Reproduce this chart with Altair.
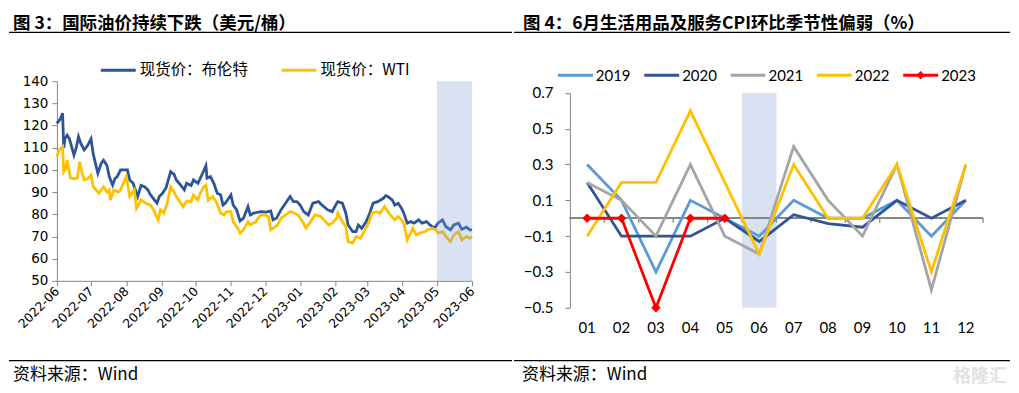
import altair as alt
import pandas as pd

# ---------------- left panel data: spot oil prices ----------------
brent_dates = ["2022-06-01","2022-06-04","2022-06-06","2022-06-07","2022-06-08","2022-06-10","2022-06-12","2022-06-16","2022-06-18","2022-06-20","2022-06-22","2022-06-25","2022-06-28","2022-07-01","2022-07-03","2022-07-07","2022-07-10","2022-07-12","2022-07-15","2022-07-17","2022-07-20","2022-07-22","2022-07-24","2022-07-27","2022-08-02","2022-08-04","2022-08-07","2022-08-11","2022-08-14","2022-08-17","2022-08-20","2022-08-22","2022-08-25","2022-08-28","2022-08-30","2022-09-02","2022-09-05","2022-09-09","2022-09-12","2022-09-14","2022-09-18","2022-09-21","2022-09-23","2022-09-27","2022-09-29","2022-10-03","2022-10-07","2022-10-10","2022-10-11","2022-10-14","2022-10-17","2022-10-18","2022-10-20","2022-10-23","2022-10-25","2022-10-27","2022-11-01","2022-11-03","2022-11-06","2022-11-09","2022-11-12","2022-11-16","2022-11-18","2022-11-21","2022-11-27","2022-12-02","2022-12-06","2022-12-08","2022-12-11","2022-12-15","2022-12-19","2022-12-23","2022-12-26","2022-12-29","2023-01-01","2023-01-04","2023-01-08","2023-01-12","2023-01-17","2023-01-20","2023-01-25","2023-01-29","2023-02-02","2023-02-03","2023-02-07","2023-02-10","2023-02-12","2023-02-16","2023-02-19","2023-02-21","2023-02-24","2023-02-28","2023-03-03","2023-03-06","2023-03-10","2023-03-15","2023-03-17","2023-03-19","2023-03-23","2023-03-25","2023-03-28","2023-03-31","2023-04-02","2023-04-05","2023-04-08","2023-04-11","2023-04-15","2023-04-18","2023-04-22","2023-04-25","2023-04-29","2023-05-02","2023-05-06","2023-05-09","2023-05-13","2023-05-16","2023-05-20","2023-05-23","2023-05-27","2023-05-30","2023-06-01"]
brent_values = [121,123,125.5,110,114,115.7,114,106.7,110,115,112,109,111,114,107,98.5,103,104.4,102,97,93.2,96,97,100,100,95.5,94,88,93,92.4,91,89,87,85,88,89.6,92,99.2,98,95.5,93,91,94,93,95.5,94,98.4,101.9,96.3,97,94,92.4,89.5,88.7,84.2,85,88.7,84.2,82,77,78.2,83.4,79.7,80.5,81.2,81,81.5,77.5,78.2,82,85,88,85.7,85.7,84,81.2,79.7,85,85.7,84.2,82,81.2,85,85.7,85,80.5,75.2,72.2,72.2,75.2,73.7,76.7,80.5,85,85.7,87.2,88.4,88,86.4,84.2,85,82.7,80.5,76,76.7,76,77.5,76,76.7,75.2,73.7,76,77.5,74.4,73,75.2,76,73.3,74.2,73,73]
wti_dates = ["2022-06-01","2022-06-03","2022-06-06","2022-06-07","2022-06-09","2022-06-10","2022-06-13","2022-06-16","2022-06-19","2022-06-21","2022-06-23","2022-06-25","2022-06-28","2022-07-01","2022-07-03","2022-07-08","2022-07-12","2022-07-15","2022-07-17","2022-07-18","2022-07-21","2022-07-25","2022-07-27","2022-08-01","2022-08-04","2022-08-08","2022-08-10","2022-08-14","2022-08-18","2022-08-22","2022-08-25","2022-08-27","2022-08-29","2022-08-31","2022-09-03","2022-09-06","2022-09-09","2022-09-12","2022-09-14","2022-09-18","2022-09-20","2022-09-23","2022-09-27","2022-09-29","2022-10-03","2022-10-05","2022-10-08","2022-10-10","2022-10-12","2022-10-16","2022-10-19","2022-10-21","2022-10-23","2022-10-26","2022-10-28","2022-11-01","2022-11-03","2022-11-07","2022-11-09","2022-11-12","2022-11-16","2022-11-18","2022-11-23","2022-11-27","2022-12-01","2022-12-04","2022-12-06","2022-12-08","2022-12-12","2022-12-15","2022-12-19","2022-12-23","2022-12-27","2022-12-30","2023-01-03","2023-01-06","2023-01-10","2023-01-14","2023-01-19","2023-01-23","2023-01-26","2023-01-29","2023-02-02","2023-02-03","2023-02-07","2023-02-10","2023-02-12","2023-02-16","2023-02-19","2023-02-23","2023-02-26","2023-03-02","2023-03-05","2023-03-09","2023-03-12","2023-03-16","2023-03-18","2023-03-21","2023-03-25","2023-03-28","2023-03-31","2023-04-02","2023-04-05","2023-04-08","2023-04-10","2023-04-13","2023-04-16","2023-04-21","2023-04-23","2023-04-27","2023-04-30","2023-05-02","2023-05-06","2023-05-09","2023-05-13","2023-05-16","2023-05-20","2023-05-23","2023-05-27","2023-05-30","2023-06-01"]
wti_values = [106,109,110.5,99.2,101,104.4,96.3,96,96.3,103.7,99,95.5,96,97.7,92.4,89.5,92.4,90,91,86.4,91,90,91,97,88,91,82.7,86.4,85,84.2,82,79.7,77.5,82,80.5,85,92.4,90,88,85,83.4,86,85.7,88.7,86.4,89.5,92.4,93.2,86.4,88,85.7,83.4,80.5,79.7,81.2,81.2,76.7,73.7,71.5,73,76.7,75.2,76.7,79.7,79.7,79,73,73.7,75.2,78.2,79.7,81.2,80.5,79.7,76.7,73.7,76.7,79.7,79,76.7,75.2,76,78.2,80.5,76.7,74.4,67.7,67,70,69.2,72.2,76,80.5,81.2,80.5,83.4,82,79.7,77.5,79,77.5,76,68.4,71.5,73.7,70.7,71.5,72.2,73,73.7,73,71.5,72.2,70,67.7,70.7,72.2,68.4,70,69.2,70]
oil_series = ["现货价：布伦特", "现货价：WTI"]
oil_colors = ["#2B5597", "#FFC000"]
oil_ticks = ["2022-06","2022-07","2022-08","2022-09","2022-10","2022-11","2022-12","2023-01","2023-02","2023-03","2023-04","2023-05","2023-06"]
oil_yticks = [50, 60, 70, 80, 90, 100, 110, 120, 130, 140]
oil_shade = ["2023-05-01", "2023-06-01"]

# ---------------- right panel data: CPI MoM ----------------
months = ["01","02","03","04","05","06","07","08","09","10","11","12"]
cpi_years = ["2019", "2020", "2021", "2022", "2023"]
cpi_colors = ["#5B9BD5", "#2F5597", "#A5A5A5", "#FFC000", "#FF0000"]
cpi_2019 = [0.3, 0.1, -0.3, 0.1, 0.0, -0.1, 0.1, 0.0, 0.0, 0.1, -0.1, 0.1]
cpi_2020 = [0.2, -0.1, -0.1, -0.1, 0.0, -0.13, 0.02, -0.03, -0.05, 0.1, 0.0, 0.1]
cpi_2021 = [0.2, 0.1, -0.1, 0.3, -0.1, -0.2, 0.4, 0.1, -0.1, 0.3, -0.4, 0.3]
cpi_2022 = [-0.1, 0.2, 0.2, 0.6, 0.2, -0.2, 0.3, 0.0, 0.0, 0.3, -0.3, 0.3]
cpi_2023 = [0.0, 0.0, -0.5, 0.0, 0.0]
cpi_yticks = [-0.5, -0.3, -0.1, 0.1, 0.3, 0.5, 0.7]
cpi_shade_month = "06"

title_left = "图 3：国际油价持续下跌（美元/桶）"
title_right = "图 4：6月生活用品及服务CPI环比季节性偏弱（%）"
source_text = "资料来源：Wind"
watermark = "格隆汇"

CJK = "Noto Sans CJK SC"
one = pd.DataFrame({"k": [0]})


def text_at(txt, x, y, size, font=CJK, weight="normal", color="#000000", align="left"):
    return alt.Chart(one).mark_text(text=txt, align=align, baseline="alphabetic", font=font,
                                    fontSize=size, fontWeight=weight, color=color).encode(
        x=alt.value(x), y=alt.value(y))


def hrule(x1, x2, y, color="#000000", w=1.3):
    return alt.Chart(one).mark_rule(color=color, strokeWidth=w).encode(
        x=alt.value(x1), x2=alt.value(x2), y=alt.value(y))


def anchor(x, y):
    return alt.Chart(one).mark_rule(color="#ffffff", strokeWidth=1).encode(
        x=alt.value(x), y=alt.value(y), y2=alt.value(y + 1))


# ================= LEFT PANEL =================
W1, H1 = 416, 200


def dt(s):
    y, m = s.split("-")[:2]
    return alt.DateTime(year=int(y), month=int(m), date=1, utc=True)


oil_df = pd.DataFrame({
    "date": brent_dates + wti_dates,
    "price": brent_values + wti_values,
    "series": [oil_series[0]] * len(brent_dates) + [oil_series[1]] * len(wti_dates),
})

x_scale1 = alt.Scale(type="utc", domain=[dt(oil_ticks[0]), dt(oil_ticks[-1])])
x_axis1 = alt.Axis(values=[dt(t) for t in oil_ticks], format="%Y-%m", labelAngle=-45,
                   labelAlign="right", labelBaseline="middle", labelFont="DejaVu Sans",
                   labelFontSize=12.5, labelColor="#000000", labelPadding=3, labelOverlap=False,
                   tickCount=40, domainColor="#868686", tickColor="#868686", tickSize=5,
                   grid=False, title=None)
y_scale1 = alt.Scale(domain=[oil_yticks[0], oil_yticks[-1]], nice=False, zero=False)
y_axis1 = alt.Axis(values=oil_yticks, tickCount=40, labelFont="DejaVu Sans", labelFontSize=13.5,
                   labelColor="#000000", labelPadding=4, labelOverlap=False,
                   domainColor="#868686", tickColor="#868686", tickSize=5, grid=False, title=None)

oil_lines = alt.Chart(oil_df).mark_line(strokeWidth=2.8).encode(
    x=alt.X("date:T", scale=x_scale1, axis=x_axis1),
    y=alt.Y("price:Q", scale=y_scale1, axis=y_axis1),
    color=alt.Color("series:N", scale=alt.Scale(domain=oil_series, range=oil_colors), legend=None),
    detail="series:N",
)

shade1_df = pd.DataFrame({"start": [oil_shade[0]], "end": [oil_shade[1]]})
oil_shade_rect = alt.Chart(shade1_df).mark_rect(color="#7F9FD6", opacity=0.3).encode(
    x=alt.X("start:T", scale=x_scale1, axis=x_axis1),
    x2="end:T",
    y=alt.YDatum(oil_yticks[0], scale=y_scale1, axis=y_axis1),
    y2=alt.datum(oil_yticks[-1]),
)

left_layers = [oil_lines, oil_shade_rect]
for i, (name, col) in enumerate(zip(oil_series, oil_colors)):
    x0 = 44 + i * 181
    left_layers.append(hrule(x0, x0 + 35, -11, color=col, w=3))
    left_layers.append(text_at(name, x0 + 39, -6.5, 15.5))

left_layers += [
    anchor(-48, -72.5),
    text_at(title_left, -44, -52.5, 17.5, weight="bold"),
    hrule(-48, 456, -49),
    hrule(-48, 456, 280),
    text_at(source_text, -44, 299, 17),
]
left = alt.layer(*left_layers).properties(width=W1, height=H1)

# ================= RIGHT PANEL =================
W2, H2 = 414, 227
top2 = 11.7

cpi_rows = []
for yr, vals in zip(cpi_years, [cpi_2019, cpi_2020, cpi_2021, cpi_2022, cpi_2023]):
    for m, v in zip(months, vals):
        cpi_rows.append({"month": m, "value": v, "year": yr})
cpi_df = pd.DataFrame(cpi_rows)

x_scale2 = alt.Scale(type="band", domain=months, paddingInner=0, paddingOuter=0)
x_axis2 = alt.Axis(domain=False, ticks=False, labelFont="Lato", labelFontSize=15,
                   labelColor="#000000", labelAngle=0, labelPadding=13, title=None)
y_scale2 = alt.Scale(domain=[cpi_yticks[0], cpi_yticks[-1]], range=[H2, top2], nice=False, zero=False)
y_axis2 = alt.Axis(values=cpi_yticks, tickCount=40, format=".1f", labelFont="Lato", labelFontSize=15,
                   labelColor="#000000", labelPadding=12, labelOverlap=False,
                   domainColor="#868686", tickColor="#868686", tickSize=5, grid=False, title=None)

shade2 = alt.Chart(pd.DataFrame({"month": [cpi_shade_month]})).mark_rect(color="#D9E1F2").encode(
    x=alt.X("month:O", scale=x_scale2, axis=x_axis2),
    y=alt.YDatum(cpi_yticks[-1], scale=y_scale2, axis=y_axis2),
    y2=alt.datum(cpi_yticks[0]),
)
zero_df = pd.DataFrame({"month": months})
zero_line = alt.Chart(zero_df).mark_rule(color="#868686", strokeWidth=1.5).encode(
    y=alt.YDatum(0, scale=y_scale2, axis=y_axis2),
)
zero_ticks = alt.Chart(zero_df).mark_rule(color="#868686", strokeWidth=1.3).encode(
    x=alt.X("month:O", scale=x_scale2, axis=x_axis2, bandPosition=1),
    y=alt.YDatum(0, scale=y_scale2, axis=y_axis2),
    y2=alt.datum(-0.025),
)

right_layers = [shade2, zero_line, zero_ticks]
for yr, col in zip(cpi_years, cpi_colors):
    base = alt.Chart(cpi_df[cpi_df["year"] == yr])
    if yr == "2023":
        mk = base.mark_line(color=col, strokeWidth=2.8,
                            point=alt.OverlayMarkDef(shape="diamond", filled=True, size=90, color=col))
    else:
        mk = base.mark_line(color=col, strokeWidth=2.8)
    right_layers.append(mk.encode(
        x=alt.X("month:O", scale=x_scale2, axis=x_axis2, bandPosition=0.5),
        y=alt.Y("value:Q", scale=y_scale2, axis=y_axis2),
    ))

for i, (yr, col) in enumerate(zip(cpi_years, cpi_colors)):
    x0 = -12 + i * 86.5
    right_layers.append(hrule(x0, x0 + 35, -6, color=col, w=3))
    if yr == "2023":
        right_layers.append(alt.Chart(one).mark_point(shape="diamond", filled=True, size=70,
                                                      color=col, opacity=1).encode(
            x=alt.value(x0 + 17.5), y=alt.value(-6)))
    right_layers.append(text_at(yr, x0 + 38, -0.5, 15, font="Lato"))

right_layers += [
    anchor(-56, -72.5),
    text_at(title_right, -47, -52.5, 17.5, weight="bold"),
    hrule(-56, 441, -49),
    hrule(-56, 441, 280),
    text_at(source_text, -48, 299, 17),
    text_at(watermark, 438, 301, 18, weight="bold", color="#E2E2E2", align="right"),
]
right = alt.layer(*right_layers).properties(width=W2, height=H2)

chart = alt.hconcat(left, right, spacing=0).properties(padding=0).configure_view(stroke=None)
chart.save("out.html", embed_options={"renderer": "svg", "actions": False})
